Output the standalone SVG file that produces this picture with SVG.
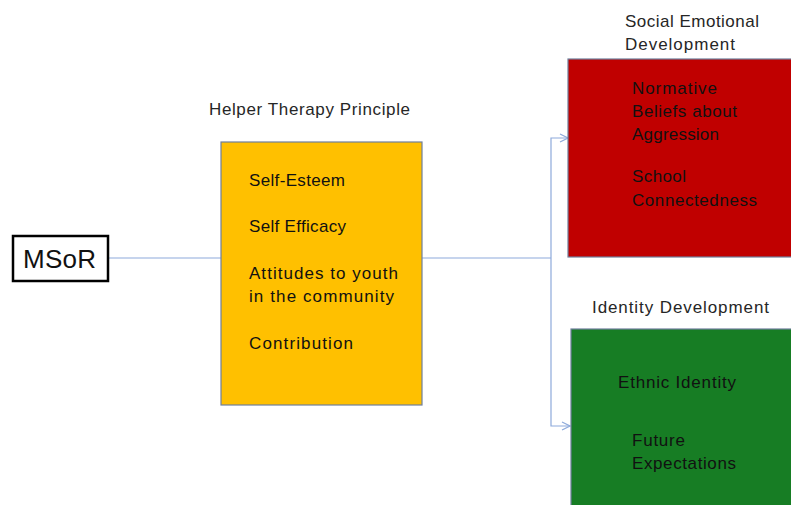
<svg xmlns="http://www.w3.org/2000/svg" width="791" height="505" viewBox="0 0 791 505">
<defs>
<style>
text{font-family:"Liberation Sans",Arial,sans-serif;font-size:17px;fill:#111}
.t{fill:#262626}
.c{stroke:#8eaadb;stroke-width:1.2;fill:none}
.box{stroke:#6f7f9c;stroke-width:1.2}
</style>
<marker id="a" viewBox="0 0 10 10" refX="9" refY="5" markerWidth="10" markerHeight="10" markerUnits="userSpaceOnUse" orient="auto">
<path d="M1,1 L9,5 L1,9" fill="none" stroke="#8eaadb" stroke-width="1.2"/>
</marker>
</defs>
<rect width="791" height="505" fill="#fff"/>
<g id="connectors">
<path class="c" d="M108,258 H221"/>
<path class="c" d="M422,258 H551"/>
<path class="c" d="M551,258 V138 H568" marker-end="url(#a)"/>
<path class="c" d="M551,258 V426 H570" marker-end="url(#a)"/>
</g>
<g id="msor">
<rect x="13" y="236" width="95" height="45" fill="#fff" stroke="#000" stroke-width="2.5"/>
<text x="23" y="268" textLength="73" style="font-size:26px">MSoR</text>
</g>
<g id="helper">
<text class="t" x="209" y="115" textLength="201">Helper Therapy Principle</text>
<rect class="box" x="221" y="142" width="201" height="263" fill="#ffc000"/>
<text x="249" y="186" textLength="96">Self-Esteem</text>
<text x="249" y="232" textLength="97">Self Efficacy</text>
<text x="249" y="279" textLength="149">Attitudes to youth</text>
<text x="249" y="302" textLength="145">in the community</text>
<text x="249" y="349" textLength="104">Contribution</text>
</g>
<g id="social">
<text class="t" x="625" y="27" textLength="134">Social Emotional</text>
<text class="t" x="625" y="50" textLength="110">Development</text>
<rect class="box" x="568" y="59" width="230" height="198" fill="#c00000"/>
<text x="632" y="94" textLength="85">Normative</text>
<text x="632" y="117" textLength="105">Beliefs about</text>
<text x="632" y="140" textLength="87">Aggression</text>
<text x="632" y="182" textLength="54">School</text>
<text x="632" y="206" textLength="125">Connectedness</text>
</g>
<g id="identity">
<text class="t" x="592" y="313" textLength="177">Identity Development</text>
<rect class="box" x="571" y="329" width="230" height="190" fill="#177d24"/>
<text x="618" y="388" textLength="118">Ethnic Identity</text>
<text x="632" y="446" textLength="53">Future</text>
<text x="632" y="469" textLength="104">Expectations</text>
</g>
</svg>
